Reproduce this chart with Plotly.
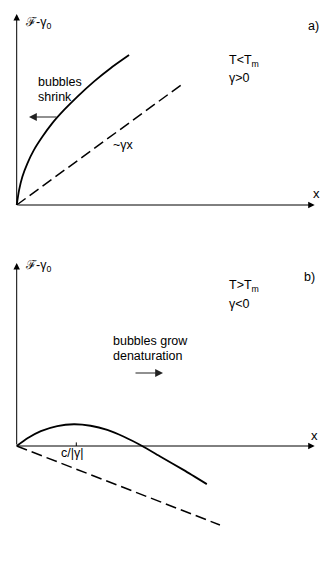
import plotly.graph_objects as go

# ==================================================
# Data (arbitrary units)
# ==================================================

# panel a) T < Tm, gamma > 0
a_curve_x = [0, 0.08, 0.19, 0.36, 0.58, 0.86, 1.19, 1.59, 2.03, 2.59, 3.15, 3.77]
a_curve_y = [0, 0.50, 0.95, 1.40, 1.85, 2.29, 2.74, 3.19, 3.63, 4.14, 4.59, 5.03]
a_line_x = [0, 5.59]
a_line_y = [0, 4.08]

# panel b) T > Tm, gamma < 0
b_curve_x = [0, 0.36, 0.81, 1.36, 1.92, 2.48, 3.04, 3.60, 4.21, 4.83, 5.61, 6.38]
b_curve_y = [0, 0.26, 0.50, 0.67, 0.73, 0.68, 0.54, 0.31, 0, -0.36, -0.81, -1.28]
b_line_x = [0, 6.82]
b_line_y = [0, -2.65]
b_tick_x = [2.0]
b_tick_label = ["c/|γ|"]

# axis extents
axis_x_end = 10.0
a_axis_y_end = 6.41
b_axis_y_end = 6.14

W, H = 332, 566
FONT = "Liberation Sans, Arial, Helvetica, sans-serif"
scale = 29.8


def paper(px, py):
    return px / W, 1 - py / H


fig = go.Figure()

# ==================================================
# Curves
# ==================================================

fig.add_trace(go.Scatter(x=a_curve_x, y=a_curve_y, mode="lines", hoverinfo="skip",
                         line=dict(color="black", width=1.8, shape="spline", smoothing=0.6),
                         xaxis="x", yaxis="y"))
fig.add_trace(go.Scatter(x=a_line_x, y=a_line_y, mode="lines", hoverinfo="skip",
                         line=dict(color="black", width=1.5, dash="11px,5px"),
                         xaxis="x", yaxis="y"))
fig.add_trace(go.Scatter(x=b_curve_x, y=b_curve_y, mode="lines", hoverinfo="skip",
                         line=dict(color="black", width=1.8, shape="spline", smoothing=0.6),
                         xaxis="x2", yaxis="y2"))
fig.add_trace(go.Scatter(x=b_line_x, y=b_line_y, mode="lines", hoverinfo="skip",
                         line=dict(color="black", width=1.5, dash="11px,5px"),
                         xaxis="x2", yaxis="y2"))

# tick mark at c/|gamma|
for tx in b_tick_x:
    fig.add_shape(type="line", xref="x2", yref="y2", x0=tx, x1=tx, y0=0, y1=0.12,
                  line=dict(color="black", width=1))

# ==================================================
# Axes drawn as arrows
# ==================================================

def axis_arrow(xr, yr, x, y):
    fig.add_annotation(xref=xr, yref=yr, axref=xr, ayref=yr,
                       x=x, y=y, ax=0, ay=0, text="", showarrow=True,
                       arrowhead=2, arrowsize=1.3, arrowwidth=1, arrowcolor="black")

axis_arrow("x", "y", axis_x_end, 0)
axis_arrow("x", "y", 0, a_axis_y_end)
axis_arrow("x2", "y2", axis_x_end, 0)
axis_arrow("x2", "y2", 0, b_axis_y_end)

# direction arrows (pixel positions from the sketch)
def dir_arrow(x0, x1, py):
    hx, hy = paper(x1, py)
    fig.add_annotation(xref="paper", yref="paper", axref="pixel", ayref="pixel",
                       x=hx, y=hy, ax=(x0 - x1), ay=0, text="", showarrow=True,
                       arrowhead=2, arrowsize=1.3, arrowwidth=1.2, arrowcolor="#222")

dir_arrow(58, 29, 117)
dir_arrow(134, 163, 373)

# ==================================================
# Labels
# ==================================================

def label(text, px, py, size=12.5, anchor="left"):
    x, y = paper(px, py)
    fig.add_annotation(xref="paper", yref="paper", x=x, y=y, text=text,
                       showarrow=False, xanchor=anchor, yanchor="middle",
                       font=dict(family=FONT, size=size, color="black"))

# panel a
label("ℱ-γ<sub>0</sub>", 23, 23, size=12.5)
label("a)", 306, 26)
label("T&lt;T<sub>m</sub>", 227, 61)
label("γ&gt;0", 227, 78)
label("bubbles", 36, 82)
label("shrink", 36, 97)
label("~γx", 111, 145)
label("x", 311, 193, size=13)

# panel b
label("ℱ-γ<sub>0</sub>", 23, 266, size=12.5)
label("b)", 302, 277)
label("T&gt;T<sub>m</sub>", 227, 286)
label("γ&lt;0", 227, 304)
label("bubbles grow", 111, 341)
label("denaturation", 111, 356)
label("x", 309, 435, size=13)
for tx, tl in zip(b_tick_x, b_tick_label):
    label(tl, 16.7 + tx * scale - 4, 453, anchor="center")

# ==================================================
# Layout
# ==================================================

x_range = [-16.7 / scale, (W - 16.7) / scale]

fig.update_layout(
    width=W,
    height=H,
    autosize=False,
    margin=dict(l=0, r=0, t=0, b=0),
    paper_bgcolor="white",
    plot_bgcolor="white",
    showlegend=False,
    hovermode=False,
    xaxis=dict(domain=[0, 1], range=x_range, visible=False, fixedrange=True),
    yaxis=dict(domain=[1 - 230 / H, 1], range=[(205 - 230) / scale, 205 / scale],
               visible=False, fixedrange=True),
    xaxis2=dict(domain=[0, 1], range=x_range, visible=False, anchor="y2", fixedrange=True),
    yaxis2=dict(domain=[0, 1 - 235 / H], range=[(446 - 566) / scale, (446 - 235) / scale],
                visible=False, anchor="x2", fixedrange=True),
)

fig.write_html("out.html", config={"displayModeBar": False},
               post_script="document.body.style.margin='0';")
